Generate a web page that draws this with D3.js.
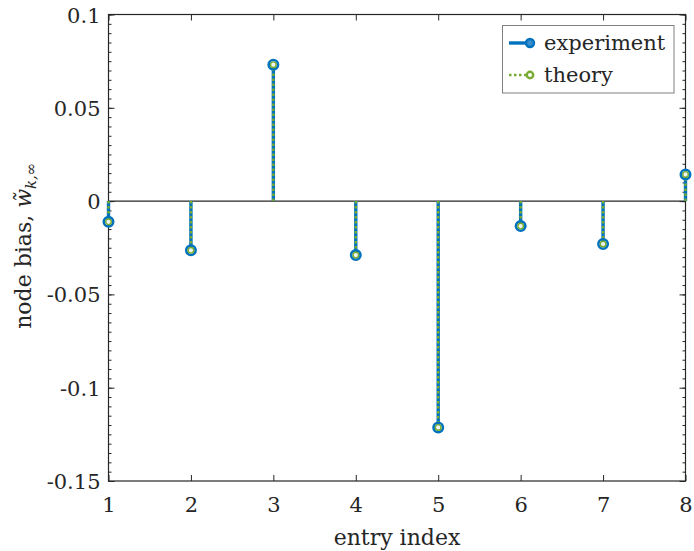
<!DOCTYPE html>
<html>
<head>
<meta charset="utf-8">
<script src="https://cdn.jsdelivr.net/npm/d3@7"></script>
<style>
  body { margin: 0; background: #fff; }
  text { font-family: "DejaVu Serif", "Liberation Serif", serif; fill: #262626; }
</style>
</head>
<body>
<div id="chart-area"></div>
<script>
// ** Data **
var entryIndex = [1, 2, 3, 4, 5, 6, 7, 8];
var experiment = [-0.0111, -0.0264, 0.0731, -0.0289, -0.1213, -0.0134, -0.0230, 0.0143];
var theory     = [-0.0111, -0.0264, 0.0731, -0.0289, -0.1213, -0.0134, -0.0230, 0.0143];
var yTicks = [-0.15, -0.1, -0.05, 0, 0.05, 0.1];
var yTickLabels = ["-0.15", "-0.1", "-0.05", "0", "0.05", "0.1"];
var seriesNames = ["experiment", "theory"];

// ** Dimensions **
var W = 694, H = 551;
var margin = { left: 108.5, top: 14.5, right: 8.5, bottom: 70 };
var width = W - margin.left - margin.right;
var height = H - margin.top - margin.bottom;

var blue = "#0072BD";
var green = "#77AC30";
var axisColor = "#262626";

var svg = d3.select("#chart-area")
	.append("svg")
	.attr("width", W)
	.attr("height", H);

var g = svg.append("g")
	.attr("transform", "translate(" + margin.left + "," + margin.top + ")");

// Scales
var x = d3.scaleLinear().domain([1, 8]).range([0, width]);
var y = d3.scaleLinear().domain([-0.15, 0.1]).range([height, 0]);

// minor ticks every 0.005
var minorTicks = d3.range(-0.15, 0.1001, 0.005).map(function(d){ return +d.toFixed(3); });

// ** Axes (box, inward ticks) **
function tickAxis(axis, cls){
	var a = g.append("g").attr("class", cls);
	a.call(axis);
	a.select(".domain").remove();
	a.selectAll("line").attr("stroke", axisColor).attr("stroke-width", 1);
	return a;
}

// bottom
var xb = tickAxis(d3.axisBottom(x).tickValues(entryIndex).tickSize(-6)
	.tickFormat(d3.format("d")), "x-axis")
	.attr("transform", "translate(0," + height + ")");
xb.selectAll("text").attr("font-size", 21).attr("dy", "0.71em").attr("y", 16);
// top
tickAxis(d3.axisTop(x).tickValues(entryIndex).tickSize(-6).tickFormat(""), "x-axis-top");

// left major + minor
var yl = tickAxis(d3.axisLeft(y).tickValues(yTicks).tickSize(-6)
	.tickFormat(function(d, i){ return yTickLabels[i]; }), "y-axis");
yl.selectAll("text").attr("font-size", 21).attr("x", -8).attr("dy", "0.36em");
tickAxis(d3.axisLeft(y).tickValues(minorTicks).tickSize(-3).tickFormat(""), "y-minor");
// right major + minor
tickAxis(d3.axisRight(y).tickValues(yTicks).tickSize(-6).tickFormat(""), "y-axis-right")
	.attr("transform", "translate(" + width + ",0)");
tickAxis(d3.axisRight(y).tickValues(minorTicks).tickSize(-3).tickFormat(""), "y-minor-right")
	.attr("transform", "translate(" + width + ",0)");

// frame
g.append("rect")
	.attr("width", width).attr("height", height)
	.attr("fill", "none").attr("stroke", axisColor).attr("stroke-width", 1.2);

// baseline at zero
g.append("line")
	.attr("x1", 0).attr("x2", width)
	.attr("y1", y(0)).attr("y2", y(0))
	.attr("stroke", axisColor).attr("stroke-width", 1.2);

// ** Stems **
var expData = entryIndex.map(function(k, i){ return { k: k, v: experiment[i] }; });
var thData = entryIndex.map(function(k, i){ return { k: k, v: theory[i] }; });

g.selectAll(".stem-exp").data(expData).enter().append("line")
	.attr("class", "stem-exp")
	.attr("x1", function(d){ return x(d.k); }).attr("x2", function(d){ return x(d.k); })
	.attr("y1", y(0)).attr("y2", function(d){ return y(d.v); })
	.attr("stroke", blue).attr("stroke-width", 3.4);

g.selectAll(".stem-th").data(thData).enter().append("line")
	.attr("class", "stem-th")
	.attr("x1", function(d){ return x(d.k); }).attr("x2", function(d){ return x(d.k); })
	.attr("y1", y(0)).attr("y2", function(d){ return y(d.v); })
	.attr("stroke", green).attr("stroke-width", 2.4)
	.attr("stroke-dasharray", "2.5 2.5");

g.selectAll(".mk-exp").data(expData).enter().append("circle")
	.attr("class", "mk-exp")
	.attr("cx", function(d){ return x(d.k); }).attr("cy", function(d){ return y(d.v); })
	.attr("r", 4.7)
	.attr("fill", "none").attr("stroke", blue).attr("stroke-width", 2.6);

g.selectAll(".mk-th").data(thData).enter().append("circle")
	.attr("class", "mk-th")
	.attr("cx", function(d){ return x(d.k); }).attr("cy", function(d){ return y(d.v); })
	.attr("r", 2.8)
	.attr("fill", "#eef4f8").attr("stroke", green).attr("stroke-width", 1.4);

// ** Labels **
svg.append("text")
	.attr("x", margin.left + width / 2)
	.attr("y", 545)
	.attr("text-anchor", "middle")
	.attr("font-size", 22)
	.text("entry index");

var yLabel = svg.append("text")
	.attr("transform", "translate(31," + (margin.top + height / 2 - 2) + ") rotate(-90)")
	.attr("text-anchor", "middle")
	.attr("font-size", 22);
yLabel.append("tspan").text("node bias, ");
yLabel.append("tspan").attr("font-style", "italic").text("w\u0303");
yLabel.append("tspan").attr("font-style", "italic").attr("font-size", 15)
	.attr("dy", 5).text("k,\u221E");

// ** Legend **
var legend = svg.append("g").attr("transform", "translate(502.5,25.5)");
legend.append("rect")
	.attr("width", 171.5).attr("height", 67.5)
	.attr("fill", "#fff").attr("stroke", "#7f7f7f").attr("stroke-width", 1);

seriesNames.forEach(function(name, i){
	var row = legend.append("g").attr("transform", "translate(0," + (17.5 + i * 32) + ")");
	var col = i === 0 ? blue : green;
	row.append("line")
		.attr("x1", 6.5).attr("x2", 28)
		.attr("stroke", col)
		.attr("stroke-width", i === 0 ? 3.4 : 2.6)
		.attr("stroke-dasharray", i === 0 ? null : "2.5 2.5");
	row.append("circle")
		.attr("cx", 27.5).attr("r", i === 0 ? 4 : 3.2)
		.attr("fill", i === 0 ? "#3b8fcf" : "#fff")
		.attr("stroke", col).attr("stroke-width", 2.4);
	row.append("text")
		.attr("x", 41.5).attr("y", 6.5)
		.attr("font-size", 21)
		.text(name);
});
</script>
</body>
</html>
